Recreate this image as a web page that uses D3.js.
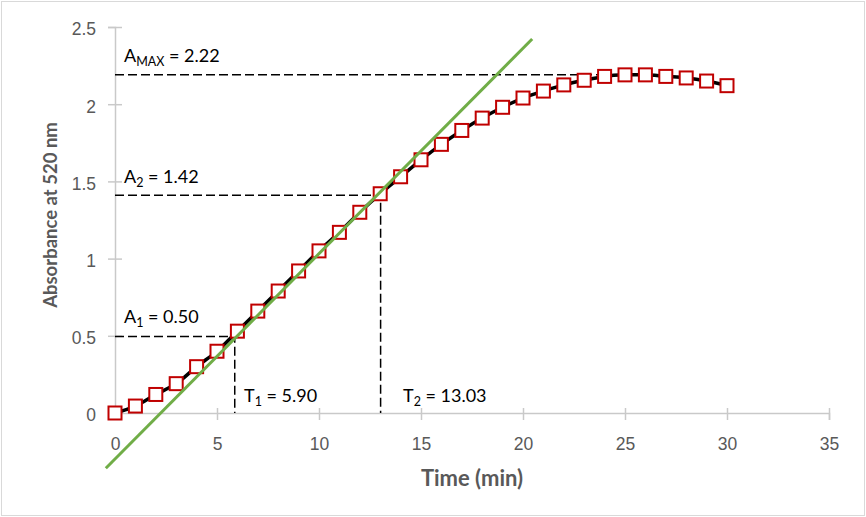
<!DOCTYPE html>
<html>
<head>
<meta charset="utf-8">
<script src="https://cdn.jsdelivr.net/npm/d3@7"></script>
<style>
  body { margin: 0; background: #fff; }
  svg { display: block; font-family: Lato, "Open Sans", sans-serif; }
</style>
</head>
<body>
<div id="chart"></div>
<script>
// data
const times = [0,1,2,3,4,5,6,7,8,9,10,11,12,13,14,15,16,17,18,19,20,21,22,23,24,25,26,27,28,29,30];
const absorbance = [0,0.045,0.12,0.19,0.30,0.40,0.53,0.66,0.79,0.92,1.05,1.17,1.30,1.42,1.53,1.64,1.74,1.83,1.91,1.98,2.04,2.085,2.125,2.155,2.18,2.19,2.19,2.18,2.17,2.15,2.12];
const xTicks = [0,5,10,15,20,25,30,35];
const yTicks = [0,0.5,1,1.5,2,2.5];
const tangentX = [-0.45, 20.45];
const tangentSlope = 0.133, tangentIntercept = -0.298;
const aMax = 2.19, aMaxEnd = 26.1;
const t1 = 5.87, a1 = 0.495;
const t2 = 13.02, a2 = 1.41;

(function chart(){
let width = 866,
    height = 517,
    margin = ({top: 27, right: 37, bottom: 104, left: 115});

const svg = d3.select("#chart")
    .append("svg")
    .attr("width", width)
    .attr("height", height);

svg.append("rect")
    .attr("x", 1.5).attr("y", 1.5)
    .attr("width", width - 3).attr("height", height - 3)
    .attr("fill", "#fff")
    .attr("stroke", "#d9d9d9");

let x = d3.scaleLinear()
    .domain([0, 35])
    .range([margin.left, width - margin.right]);

let y = d3.scaleLinear()
    .domain([0, 2.5])
    .range([height - margin.bottom, margin.top]);

const axisColor = "#c9c9c9", tickText = "#595959";

// x axis
const gx = svg.append("g")
    .attr("transform", `translate(0,${y(0)})`)
    .call(d3.axisBottom(x).tickValues(xTicks).tickSize(7).tickPadding(18));
gx.select(".domain").attr("stroke", axisColor).attr("stroke-width", 1.5);
gx.selectAll(".tick line").attr("stroke", axisColor).attr("stroke-width", 1.5).attr("y1", -5);
gx.selectAll(".tick text").attr("fill", tickText).style("font-size", "17.5px");

// y axis
const gy = svg.append("g")
    .attr("transform", `translate(${x(0)},0)`)
    .call(d3.axisLeft(y).tickValues(yTicks).tickSize(7).tickPadding(12).tickFormat(d3.format("")));
gy.select(".domain").attr("stroke", axisColor).attr("stroke-width", 1.5);
gy.selectAll(".tick line").attr("stroke", axisColor).attr("stroke-width", 1.5).attr("x2", -7).attr("x1", 7);
gy.selectAll(".tick text").attr("fill", tickText).style("font-size", "17.5px").attr("dy", "0.45em");
gy.selectAll(".tick").filter(d => d === 0).select("line").remove();

// axis titles
svg.append("text")
    .attr("x", 472).attr("y", 486)
    .attr("text-anchor", "middle")
    .attr("fill", tickText)
    .style("font-size", "22px").style("font-weight", "bold")
    .text("Time (min)");

svg.append("text")
    .attr("transform", `translate(57,215) rotate(-90)`)
    .attr("text-anchor", "middle")
    .attr("fill", tickText)
    .style("font-size", "18.5px").style("font-weight", "bold")
    .text("Absorbance at 520 nm");

// dashed guide lines
const dash = svg.append("g")
    .attr("fill", "none")
    .attr("stroke", "#000")
    .attr("stroke-width", 1.5)
    .attr("stroke-dasharray", "9,4");

dash.append("path").attr("d", d3.line()([[x(0), y(aMax)], [x(aMaxEnd), y(aMax)]]));
dash.append("path").attr("d", d3.line()([[x(0), y(a2)], [x(t2), y(a2)], [x(t2), y(0)]]));
dash.append("path").attr("d", d3.line()([[x(0), y(a1)], [x(t1), y(a1)], [x(t1), y(0)]]));

// data line
const data = times.map((t, i) => ({t: t, a: absorbance[i]}));

svg.append("path")
    .datum(data)
    .attr("fill", "none")
    .attr("stroke", "#000")
    .attr("stroke-width", 3.5)
    .attr("d", d3.line().x(d => x(d.t)).y(d => y(d.a)).curve(d3.curveCatmullRom));

svg.selectAll(".pt")
    .data(data)
    .join("rect")
    .attr("class", "pt")
    .attr("x", d => x(d.t) - 6.5)
    .attr("y", d => y(d.a) - 6.5)
    .attr("width", 13)
    .attr("height", 13)
    .attr("fill", "#fff")
    .attr("stroke", "#c00000")
    .attr("stroke-width", 2);

// tangent line
svg.append("path")
    .attr("fill", "none")
    .attr("stroke", "#70ad47")
    .attr("stroke-width", 3)
    .attr("d", d3.line()(tangentX.map(t => [x(t), y(tangentIntercept + tangentSlope * t)])));

// annotations
const label = (px, py, main, sub, rest) => {
    const t = svg.append("text")
        .attr("x", px).attr("y", py)
        .attr("fill", "#000")
        .style("font-size", "18px");
    t.append("tspan").text(main);
    t.append("tspan").attr("dy", 4).style("font-size", "12.5px").text(sub);
    t.append("tspan").attr("dy", -4).text(rest);
};

label(124, 62, "A", "MAX", " = 2.22");
label(124, 183, "A", "2", " = 1.42");
label(124, 323, "A", "1", " = 0.50");
label(244, 402, "T", "1", " = 5.90");
label(403, 402, "T", "2", " = 13.03");
})();
</script>
</body>
</html>
